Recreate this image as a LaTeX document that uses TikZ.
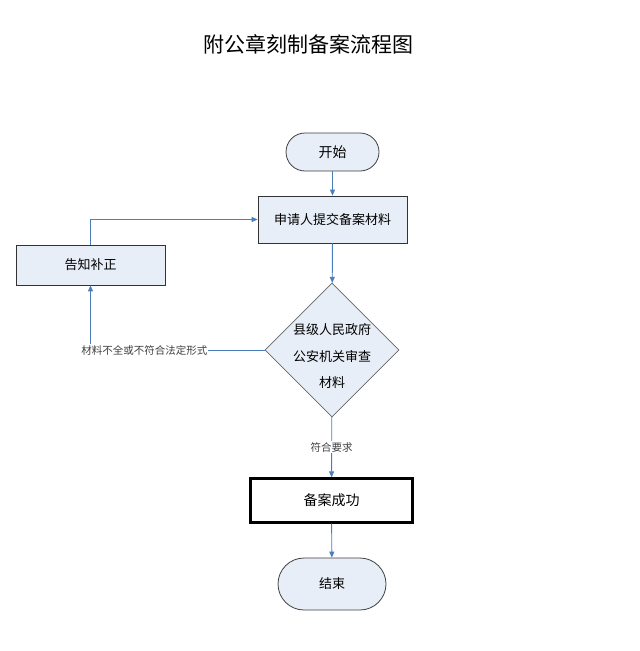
\documentclass[tikz,border=0pt]{standalone}
\usepackage{fontspec}
\setmainfont{Noto Sans CJK SC}
\usetikzlibrary{arrows.meta,shapes.geometric}
\definecolor{boxfill}{HTML}{E8EEF7}
\definecolor{linkblue}{HTML}{4A7EBB}
\tikzset{
  terminal/.style={rectangle, draw=black!75, fill=boxfill, line width=0.8pt},
  stepbox/.style={rectangle, draw=black!80, fill=boxfill, line width=0.8pt},
  decide/.style={diamond, draw=black!60, fill=boxfill, line width=0.8pt, aspect=1},
  link/.style={draw=linkblue, line width=0.9pt, -{Triangle[width=5pt,length=6pt]}},
  tag/.style={fill=white, inner sep=1pt, font=\fontsize{10.5}{12}\selectfont, text=black!75}
}
\begin{document}
\begin{tikzpicture}[x=1pt,y=-1pt]
      \useasboundingbox (0,0) rectangle (640,651);
      \draw
        (308,44) node (title){\fontsize{21}{24}\selectfont 附公章刻制备案流程图}
        (332.5,152) node[terminal, rounded corners=19pt, minimum width=93pt, minimum height=38pt, font=\fontsize{14}{16}\selectfont] (start){开始}
        (332.5,219.5) node[stepbox, minimum width=149pt, minimum height=47pt, font=\fontsize{13}{15}\selectfont] (apply){申请人提交备案材料}
        (90.5,265) node[stepbox, minimum width=149pt, minimum height=40pt, font=\fontsize{13}{15}\selectfont] (notify){告知补正}
        (332,350) node[decide, minimum width=134pt, minimum height=134pt, inner sep=0pt] (check){}
        (332,356) node[align=center, font=\fontsize{13}{26.5}\selectfont] (checktext){县级人民政府\\公安机关审查\\材料}
        (331.5,500.5) node[rectangle, draw=black, fill=white, line width=2.2pt, minimum width=162pt, minimum height=44pt, font=\fontsize{14}{16}\selectfont] (done){备案成功}
        (332,584) node[terminal, rounded corners=26pt, minimum width=108pt, minimum height=52pt, font=\fontsize{13}{15}\selectfont] (finish){结束};
      \begin{scope}[link]
        \draw (start) to (apply);
        \draw (apply) to (check);
        \draw (check) to node[tag, pos=0.5] {符合要求} (done);
        \draw (done) to (finish);
        \draw (check.west) -| node[tag, pos=0.345] {材料不全或不符合法定形式} (notify.south);
        \draw (notify.north) |- (apply.west);
      \end{scope}
    \end{tikzpicture}
\end{document}
